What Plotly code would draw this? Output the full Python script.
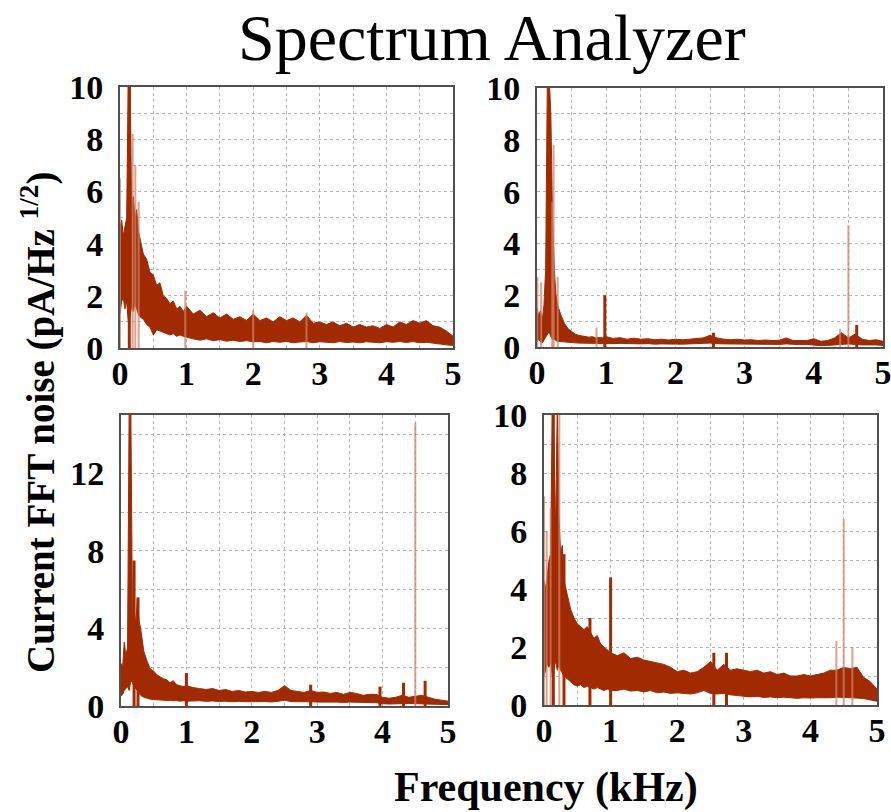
import plotly.graph_objects as go

# ---------------- data ----------------
FREQ = [0.0, 0.025, 0.05, 0.075, 0.1, 0.125, 0.15, 0.175, 0.2, 0.225, 0.25, 0.275, 0.3,
        0.35, 0.4, 0.45, 0.5, 0.55, 0.6, 0.65, 0.7, 0.75, 0.8, 0.85, 0.9, 0.95, 1.0,
        1.1, 1.2, 1.3, 1.4, 1.5, 1.6, 1.7, 1.8, 1.9, 2.0,
        2.1, 2.2, 2.3, 2.4, 2.5, 2.6, 2.7, 2.8, 2.9, 3.0,
        3.1, 3.2, 3.3, 3.4, 3.5, 3.6, 3.7, 3.8, 3.9, 4.0,
        4.1, 4.2, 4.3, 4.4, 4.5, 4.6, 4.7, 4.8, 4.9, 5.0]

# Panel 1 (top-left): noise band upper / lower edges
P1_UPPER = [4.6, 4.9, 4.3, 4.6, 5.0, 10.5, 10.5, 5.5, 5.8, 5.0, 5.3, 4.5, 4.2,
            3.6, 3.4, 2.9, 2.8, 2.4, 2.5, 2.0, 1.9, 1.7, 1.8, 1.5, 1.6, 1.4, 1.6,
            1.3, 1.45, 1.2, 1.35, 1.15, 1.3, 1.1, 1.2, 1.05, 1.3,
            1.05, 1.15, 1.0, 1.2, 1.05, 1.15, 1.0, 1.25, 0.95, 1.0,
            0.9, 1.0, 0.85, 0.95, 0.8, 0.9, 0.8, 0.85, 0.75, 0.9,
            0.8, 1.0, 0.9, 1.05, 0.95, 1.05, 0.85, 0.8, 0.65, 0.45]
P1_LOWER = [1.3, 1.8, 1.9, 1.5, 1.8, 1.0, 1.2, 1.6, 1.4, 1.7, 1.5, 1.3, 1.2,
            1.1, 0.9, 0.8, 0.5, 0.7, 0.65, 0.6, 0.55, 0.5, 0.55, 0.45, 0.5, 0.45, 0.4,
            0.35, 0.3, 0.35, 0.28, 0.32, 0.26, 0.3, 0.25, 0.28, 0.24,
            0.25, 0.2, 0.25, 0.22, 0.25, 0.2, 0.23, 0.25, 0.2, 0.24,
            0.22, 0.2, 0.25, 0.21, 0.23, 0.2, 0.24, 0.22, 0.2, 0.24,
            0.22, 0.25, 0.21, 0.25, 0.2, 0.22, 0.18, 0.16, 0.12, 0.1]
P1_SPIKE_F = [0.0, 0.19, 0.23, 0.28, 0.98, 2.0, 2.8]
P1_SPIKE_H = [6.5, 8.2, 7.0, 5.6, 2.2, 1.45, 1.35]
P1_DARK_F = [0.14]
P1_DARK_H = [10.5]

# Panel 2 (top-right)
P2_UPPER = [1.5, 1.2, 1.4, 1.0, 1.6, 3.0, 10.5, 10.5, 9.0, 5.0, 3.0, 2.0, 1.6,
            1.2, 0.9, 0.7, 0.6, 0.5, 0.45, 0.42, 0.4, 0.38, 0.4, 0.35, 0.37, 0.35, 0.4,
            0.33, 0.36, 0.3, 0.34, 0.3, 0.32, 0.28, 0.3, 0.27, 0.3,
            0.28, 0.3, 0.32, 0.35, 0.45, 0.35, 0.3, 0.28, 0.3, 0.27,
            0.28, 0.25, 0.27, 0.25, 0.26, 0.35, 0.25, 0.24, 0.25, 0.32,
            0.22, 0.25, 0.35, 0.55, 0.35, 0.5, 0.3, 0.25, 0.28, 0.22]
P2_LOWER = [0.2, 0.3, 0.2, 0.15, 0.3, 0.4, 0.5, 0.6, 0.4, 0.3, 0.3, 0.25, 0.22,
            0.2, 0.2, 0.18, 0.17, 0.16, 0.15, 0.15, 0.14, 0.15, 0.13, 0.14, 0.13, 0.14, 0.13,
            0.13, 0.14, 0.12, 0.13, 0.12, 0.13, 0.11, 0.12, 0.11, 0.12,
            0.11, 0.12, 0.12, 0.14, 0.15, 0.13, 0.12, 0.11, 0.12, 0.11,
            0.11, 0.1, 0.11, 0.1, 0.1, 0.12, 0.1, 0.09, 0.1, 0.08,
            0.05, 0.06, 0.07, 0.1, 0.12, 0.1, 0.08, 0.07, 0.08, 0.06]
P2_SPIKE_F = [0.005, 0.06, 0.22, 0.24, 0.3, 0.86, 4.38, 4.5]
P2_SPIKE_H = [2.7, 2.5, 5.6, 7.8, 2.7, 0.75, 0.7, 4.7]
P2_DARK_F = [0.98, 2.55, 4.62]
P2_DARK_H = [2.0, 0.55, 0.85]

# Panel 3 (bottom-left)
P3_UPPER = [2.2, 2.0, 3.3, 2.6, 3.0, 15.5, 15.5, 4.5, 5.0, 4.2, 5.5, 4.4, 4.0,
            2.8, 2.3, 1.9, 1.8, 1.6, 1.5, 1.4, 1.35, 1.2, 1.3, 1.1, 1.05, 1.0, 1.05,
            0.95, 0.9, 0.85, 0.9, 0.8, 0.85, 0.75, 0.8, 0.72, 0.75,
            0.7, 0.75, 0.7, 0.8, 1.05, 0.8, 0.75, 0.7, 0.8, 0.7,
            0.72, 0.65, 0.7, 0.6, 0.7, 0.65, 0.55, 0.6, 0.6, 0.45,
            0.4, 0.45, 0.55, 0.45, 0.5, 0.55, 0.45, 0.35, 0.3, 0.25]
P3_LOWER = [0.5, 0.6, 0.8, 0.9, 1.0, 0.8, 1.3, 1.2, 1.0, 0.9, 0.8, 0.7, 0.55,
            0.45, 0.4, 0.35, 0.33, 0.32, 0.3, 0.3, 0.28, 0.3, 0.27, 0.28, 0.25, 0.27, 0.25,
            0.25, 0.27, 0.24, 0.26, 0.23, 0.25, 0.22, 0.24, 0.22, 0.23,
            0.22, 0.23, 0.21, 0.24, 0.3, 0.23, 0.22, 0.21, 0.22, 0.2,
            0.21, 0.19, 0.2, 0.18, 0.2, 0.19, 0.17, 0.18, 0.17, 0.12,
            0.1, 0.1, 0.12, 0.13, 0.12, 0.12, 0.13, 0.1, 0.08, 0.07]
P3_SPIKE_F = [4.5]
P3_SPIKE_H = [14.6]
P3_DARK_F = [0.2, 0.26, 1.0, 2.9, 3.96, 4.32, 4.65]
P3_DARK_H = [7.5, 5.6, 1.7, 1.1, 1.0, 1.2, 1.3]

# Panel 4 (bottom-right)
P4_UPPER = [4.3, 4.0, 4.5, 5.0, 5.2, 10.5, 9.0, 6.0, 10.5, 6.5, 5.2, 5.5, 4.3,
            3.8, 3.3, 3.0, 2.8, 2.7, 2.6, 2.7, 2.5, 2.3, 2.4, 2.1, 2.0, 1.9, 1.8,
            1.7, 1.8, 1.6, 1.65, 1.55, 1.5, 1.45, 1.4, 1.3, 1.15,
            1.2, 1.1, 1.15, 1.3, 1.5, 1.2, 1.4, 1.2, 1.25, 1.2,
            1.15, 1.2, 1.1, 1.15, 1.05, 1.1, 1.0, 1.0, 1.05, 1.0,
            1.05, 1.1, 1.2, 1.2, 1.3, 1.25, 1.3, 0.95, 0.8, 0.55]
P4_LOWER = [1.0, 1.2, 1.4, 1.3, 1.5, 1.0, 1.3, 1.5, 1.2, 1.4, 1.2, 1.1, 1.0,
            0.9, 0.8, 0.7, 0.65, 0.7, 0.6, 0.65, 0.6, 0.55, 0.6, 0.55, 0.5, 0.55, 0.5,
            0.5, 0.55, 0.48, 0.5, 0.45, 0.5, 0.42, 0.45, 0.4, 0.42,
            0.4, 0.38, 0.42, 0.5, 0.4, 0.38, 0.4, 0.35, 0.33, 0.3,
            0.28, 0.3, 0.26, 0.28, 0.25, 0.27, 0.25, 0.23, 0.25, 0.24,
            0.25, 0.26, 0.25, 0.27, 0.26, 0.25, 0.24, 0.22, 0.18, 0.13]
P4_SPIKE_F = [0.0, 0.04, 0.1, 0.23, 4.39, 4.5, 4.63]
P4_SPIKE_H = [7.2, 6.0, 6.8, 10.5, 2.2, 6.4, 2.0]
P4_DARK_F = [0.14, 0.3, 0.69, 1.0, 2.55, 2.74]
P4_DARK_H = [10.5, 5.2, 3.0, 4.4, 1.8, 1.8]

X_TICKS = [0, 1, 2, 3, 4, 5]

# ---------------- styling ----------------
DARK = "#A12A00"
LIGHT = "rgba(210,130,105,0.75)"
W, H = 891, 812

panels = [
    dict(up=P1_UPPER, lo=P1_LOWER, sf=P1_SPIKE_F, sh=P1_SPIKE_H, df=P1_DARK_F, dh=P1_DARK_H,
         px=(120, 453), py=(87, 348), ymax=10, dt=2, mdt=1),
    dict(up=P2_UPPER, lo=P2_LOWER, sf=P2_SPIKE_F, sh=P2_SPIKE_H, df=P2_DARK_F, dh=P2_DARK_H,
         px=(537, 883), py=(88, 347), ymax=10, dt=2, mdt=1),
    dict(up=P3_UPPER, lo=P3_LOWER, sf=P3_SPIKE_F, sh=P3_SPIKE_H, df=P3_DARK_F, dh=P3_DARK_H,
         px=(121, 448), py=(415, 706), ymax=15, dt=4, mdt=2),
    dict(up=P4_UPPER, lo=P4_LOWER, sf=P4_SPIKE_F, sh=P4_SPIKE_H, df=P4_DARK_F, dh=P4_DARK_H,
         px=(544, 877), py=(415, 705), ymax=10, dt=2, mdt=1),
]

fig = go.Figure()
tickfont = dict(family="Liberation Serif", size=34, color="black", weight="bold")

for i, p in enumerate(panels):
    assert len(p["up"]) == len(FREQ) and len(p["lo"]) == len(FREQ)
    n = "" if i == 0 else str(i + 1)
    xa, ya = "x" + n, "y" + n
    # noise band as a filled polygon between lower and upper edges
    fig.add_trace(go.Scatter(
        x=FREQ + FREQ[::-1], y=p["up"] + p["lo"][::-1],
        mode="lines", fill="toself", fillcolor=DARK,
        line=dict(color=DARK, width=1), xaxis=xa, yaxis=ya,
        hoverinfo="skip", showlegend=False))
    # light (thin) spectral lines
    sx, sy = [], []
    for f, h in zip(p["sf"], p["sh"]):
        sx += [f, f, None]
        sy += [0, h, None]
    fig.add_trace(go.Scatter(x=sx, y=sy, mode="lines",
                             line=dict(color=LIGHT, width=2),
                             xaxis=xa, yaxis=ya, showlegend=False))
    # dark spectral lines
    dx, dy = [], []
    for f, h in zip(p["df"], p["dh"]):
        dx += [f, f, None]
        dy += [0, h, None]
    fig.add_trace(go.Scatter(x=dx, y=dy, mode="lines",
                             line=dict(color=DARK, width=3),
                             xaxis=xa, yaxis=ya, showlegend=False))

    x0, x1 = p["px"]
    yt, yb = p["py"]
    axx = dict(domain=[x0 / W, x1 / W], range=[0, 5], anchor=ya,
               tickmode="array", tickvals=X_TICKS, ticks="", ticklabelstandoff=-6,
               ticklabeloverflow="allow",
               showgrid=True, gridcolor="#b5b5b5", griddash="dot", gridwidth=1,
               minor=dict(dtick=0.5, showgrid=True, gridcolor="#b5b5b5", griddash="dot", gridwidth=1),
               showline=True, mirror=True, linecolor="#505050", linewidth=2,
               zeroline=False, tickfont=tickfont)
    axy = dict(domain=[1 - yb / H, 1 - yt / H], range=[0, p["ymax"]], anchor=xa,
               dtick=p["dt"], tick0=0, ticks="", ticklabelstandoff=8,
               ticklabeloverflow="allow",
               showgrid=True, gridcolor="#b5b5b5", griddash="dot", gridwidth=1,
               minor=dict(dtick=p["mdt"], showgrid=True, gridcolor="#b5b5b5", griddash="dot", gridwidth=1),
               showline=True, mirror=True, linecolor="#505050", linewidth=2,
               zeroline=False, tickfont=tickfont)
    fig.layout["xaxis" + n] = axx
    fig.layout["yaxis" + n] = axy

fig.update_layout(
    width=W, height=H, margin=dict(l=0, r=0, t=0, b=0),
    paper_bgcolor="white", plot_bgcolor="white", template="none",
    showlegend=False,
    annotations=[
        dict(text="Spectrum Analyzer", x=492 / W, y=1, xref="paper", yref="paper",
             showarrow=False, font=dict(family="Liberation Serif", size=66, color="black"),
             xanchor="center", yanchor="top", borderpad=0),
        dict(text="<b>Current FFT noise (pA/Hz <sup>1/2</sup>)</b>", x=38 / W, y=1 - 423 / H,
             xref="paper", yref="paper", showarrow=False, textangle=-90,
             font=dict(family="Liberation Serif", size=39, color="black"),
             xanchor="center", yanchor="middle"),
        dict(text="<b>Frequency (kHz)</b>", x=546 / W, y=1 - 787 / H,
             xref="paper", yref="paper", showarrow=False,
             font=dict(family="Liberation Serif", size=42, color="black"),
             xanchor="center", yanchor="middle"),
    ],
)

fig.write_html("out.html")
